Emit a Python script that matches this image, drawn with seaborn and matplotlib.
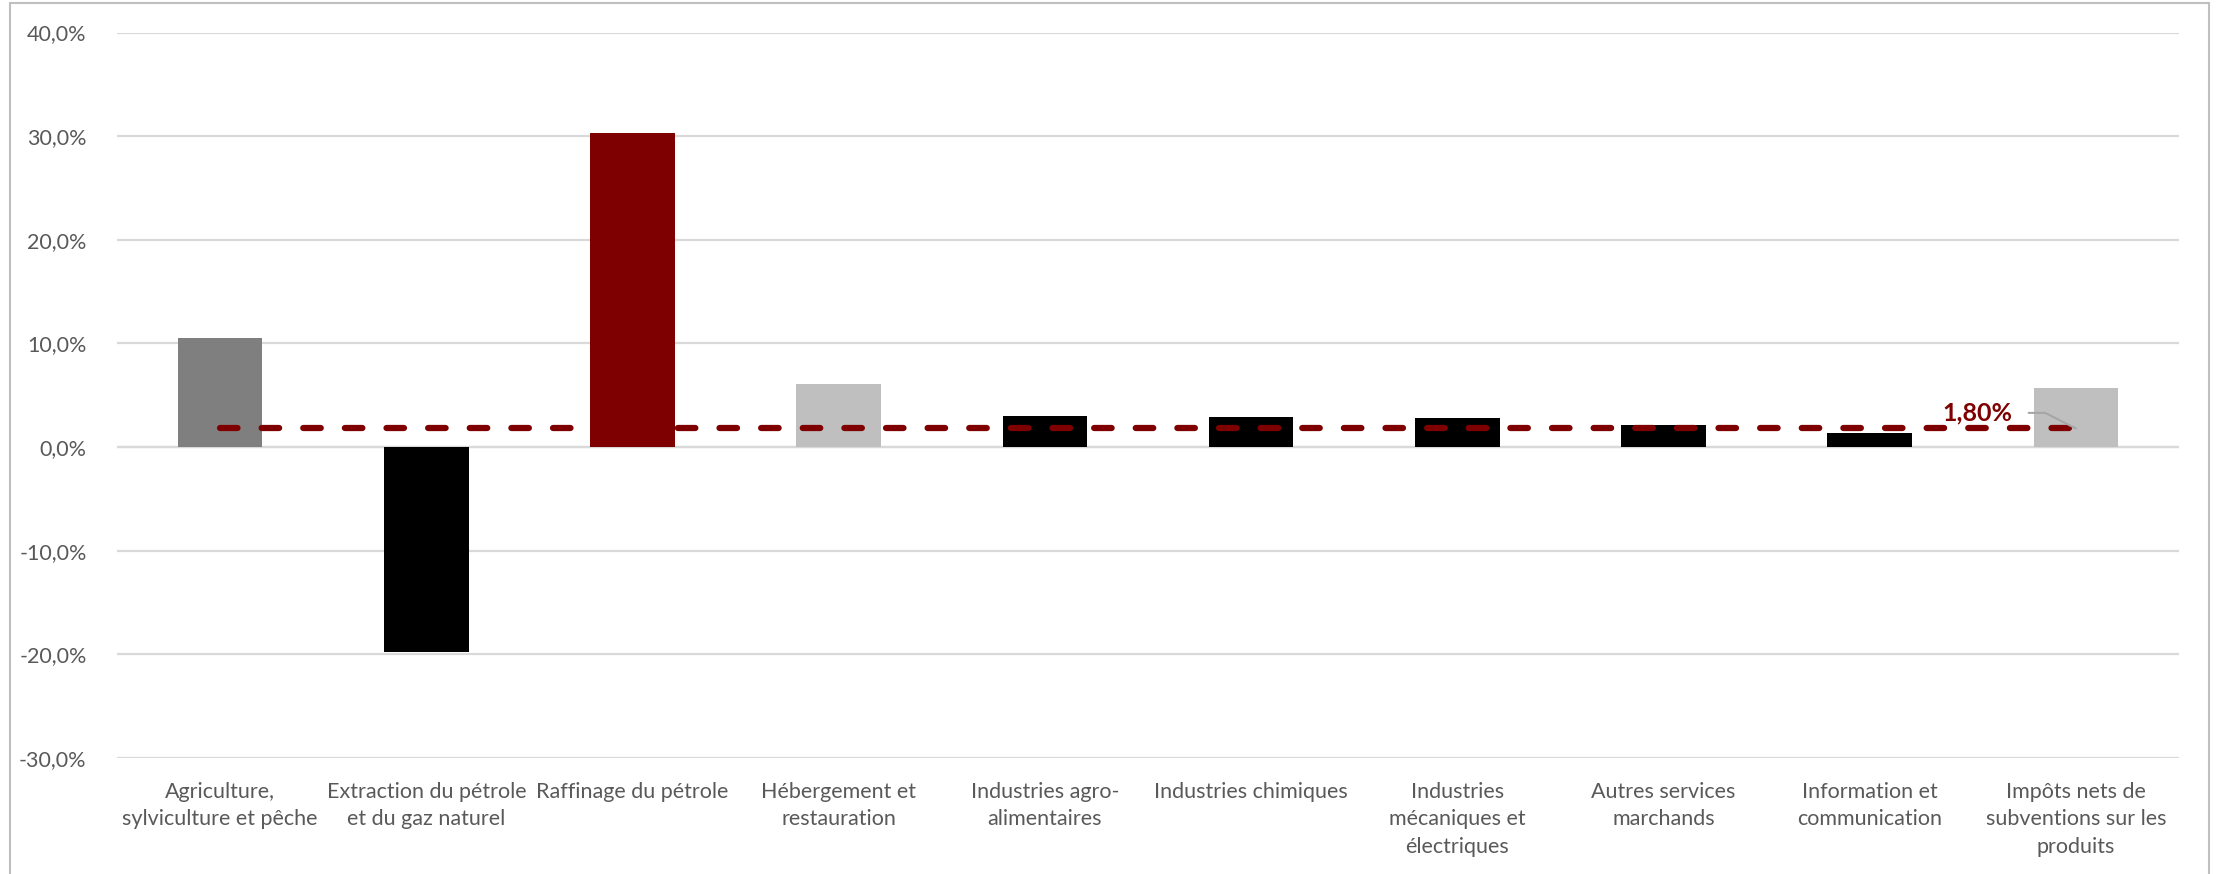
import matplotlib
matplotlib.use("Agg")
import matplotlib.pyplot as plt
import seaborn as sns
import pandas as pd
from matplotlib.patches import Rectangle

# Secteurs et contributions (en %)
categories = [
    "Agriculture,\nsylviculture et pêche",
    "Extraction du pétrole\net du gaz naturel",
    "Raffinage du pétrole",
    "Hébergement et\nrestauration",
    "Industries agro-\nalimentaires",
    "Industries chimiques",
    "Industries\nmécaniques et\nélectriques",
    "Autres services\nmarchands",
    "Information et\ncommunication",
    "Impôts nets de\nsubventions sur les\nproduits",
]
values = [10.5, -19.8, 30.3, 6.1, 3.0, 2.9, 2.8, 2.1, 1.4, 5.7]
bar_colors = ["#7F7F7F", "#000000", "#7F0000", "#BFBFBF", "#000000",
              "#000000", "#000000", "#000000", "#000000", "#BFBFBF"]

# Moyenne de référence
average = 1.80
average_label = "1,80%"

y_ticks = [-30, -20, -10, 0, 10, 20, 30, 40]

sns.set_theme(style="white")
plt.rcParams["font.family"] = ["Lato", "DejaVu Sans"]

df = pd.DataFrame({"secteur": categories, "valeur": values})

fig = plt.figure(figsize=(22.22, 8.74), dpi=100)
ax = fig.add_axes([0.0527, 0.1327, 0.9279, 0.8301])

sns.barplot(data=df, x="secteur", y="valeur", hue="secteur",
            palette=dict(zip(categories, bar_colors)), width=0.41,
            linewidth=0, saturation=1, legend=False, ax=ax, zorder=2)

ax.set_ylim(y_ticks[0], y_ticks[-1])
ax.set_xlim(-0.5, len(categories) - 0.5)
ax.set_yticks(y_ticks)
ax.set_yticklabels([f"{t:.1f}".replace(".", ",") + "%" for t in y_ticks])
ax.grid(axis="y", color="#D9D9D9", linewidth=1.6, zorder=0)
ax.grid(axis="x", visible=False)
ax.axhline(0, color="#D9D9D9", linewidth=1.6, zorder=1)
for s in ax.spines.values():
    s.set_visible(False)
ax.set_xlabel("")
ax.set_ylabel("")
ax.tick_params(axis="y", length=0, pad=22, labelsize=15.5, labelcolor="#595959")
ax.tick_params(axis="x", length=0, pad=17, labelsize=15.5, labelcolor="#595959")
for lbl in ax.get_xticklabels():
    lbl.set_linespacing(1.47)
    lbl.set_horizontalalignment("center")

# Ligne de la moyenne, en tirets arrondis, du premier au dernier secteur
line_x = [0, len(categories) - 1]
ln, = ax.plot(line_x, [average, average], color="#7F0000", linewidth=4.5,
              solid_capstyle="round", dash_capstyle="round", zorder=4)
ln.set_dashes((2.8, 3.86))

ax.annotate(average_label, xy=(len(categories) - 1, average),
            xytext=(8.525, 3.3), textcoords="data",
            ha="center", va="center", fontsize=18, fontweight="bold",
            color="#7F0000",
            arrowprops=dict(arrowstyle="-", color="#A6A6A6", lw=1.5,
                            relpos=(1.0, 0.5),
                            connectionstyle="angle,angleA=0,angleB=153,rad=0",
                            shrinkA=9, shrinkB=0),
            zorder=5)

# Cadre du graphique
fig.patches.append(Rectangle((10 / 2222, -0.01), 2199 / 2222, 1 - 3 / 874 + 0.01,
                             transform=fig.transFigure, fill=False,
                             edgecolor="#BFBFBF", linewidth=1.5))

fig.savefig("out.png", dpi=100, facecolor="white")
